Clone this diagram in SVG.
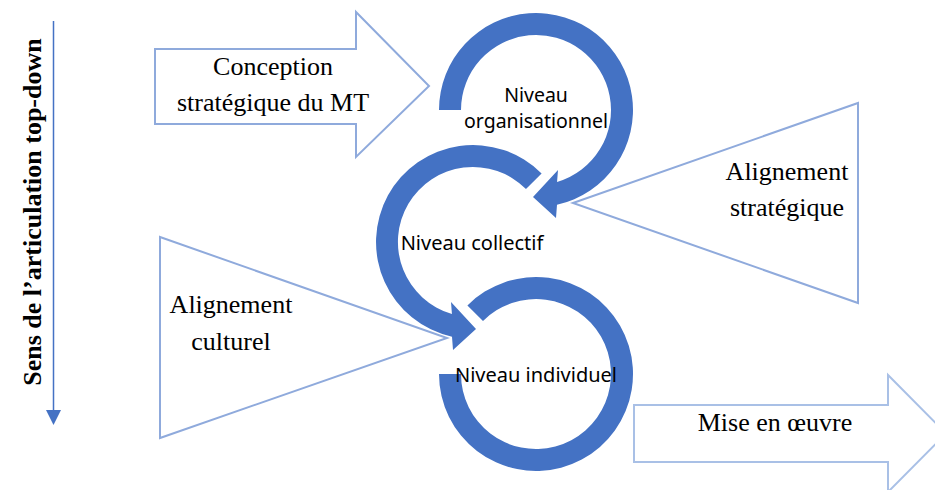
<svg xmlns="http://www.w3.org/2000/svg" width="935" height="490" viewBox="0 0 935 490">
<style>
.outline{fill:#ffffff;stroke:#8FAADC;stroke-width:2;stroke-linejoin:miter}
.pale{stroke:#A9C0E6}
.ring{fill:#4472C4;stroke:none}
.serif{font-family:"Liberation Serif","Times New Roman",serif;font-size:26px;fill:#000;text-anchor:middle}
.sans{font-family:"Noto Sans","Liberation Sans",sans-serif;font-size:20px;fill:#000;text-anchor:middle}
.sans2{font-family:"Noto Sans","Liberation Sans",sans-serif;font-size:19.5px;fill:#000;text-anchor:middle}
</style>
<rect width="935" height="490" fill="#ffffff"/>

<g id="conception">
<path class="outline" d="M155,49 L356,49 L356,12 L429,86 L356,157 L356,124 L155,124 Z"/>
<text class="serif" x="273" y="75">Conception</text>
<text class="serif" x="273" y="111">stratégique du MT</text>
</g>

<g id="alignement-strategique">
<path class="outline" d="M573,203 L858,103 L858,303 Z"/>
<text class="serif" x="787" y="180">Alignement</text>
<text class="serif" x="787" y="216">stratégique</text>
</g>

<g id="alignement-culturel">
<path class="outline" d="M160,237 L447,338 L160,438 Z"/>
<text class="serif" x="231" y="313">Alignement</text>
<text class="serif" x="231" y="350">culturel</text>
</g>

<g id="mise-en-oeuvre">
<path class="outline pale" d="M634,405 L888,405 L888,375 L946,433.5 L888,492 L888,462 L634,462 Z"/>
<text class="serif" x="775" y="431">Mise en œuvre</text>
</g>

<g id="niveau-organisationnel">
<path class="ring" d="M439,110 A97,97 0 1 1 557,204.7 L556,218 L533,197 L558,170 L557.05,182 A75,75 0 1 0 461,110 Z"/>
<text class="sans2" x="536" y="101.5">Niveau</text>
<text class="sans2" x="536" y="128">organisationnel</text>
</g>

<g id="niveau-collectif">
<path class="ring" d="M541.6,173.4 A97,97 0 1 0 452,336.7 L453,350 L476,329 L451,302 L451.95,314 A75,75 0 1 1 526,189 Z"/>
<text class="sans" x="472" y="250">Niveau collectif</text>
</g>

<g id="niveau-individuel">
<path class="ring" d="M439,374 A97,97 0 1 0 467.4,305.4 L483,321 A75,75 0 1 1 461,374 Z"/>
<text class="sans" x="536" y="382">Niveau individuel</text>
</g>

<g id="connectors">
<line x1="53.5" y1="21" x2="53.5" y2="410" stroke="#4472C4" stroke-width="1.5"/>
<path d="M46,410 L61,410 L53.5,425 Z" fill="#4472C4"/>
</g>

<g id="axis-label">
<text transform="translate(41,212) rotate(-90)" font-family="Liberation Serif,Times New Roman,serif" font-weight="bold" font-size="26" text-anchor="middle" fill="#000">Sens de l’articulation top-down</text>
</g>
</svg>
